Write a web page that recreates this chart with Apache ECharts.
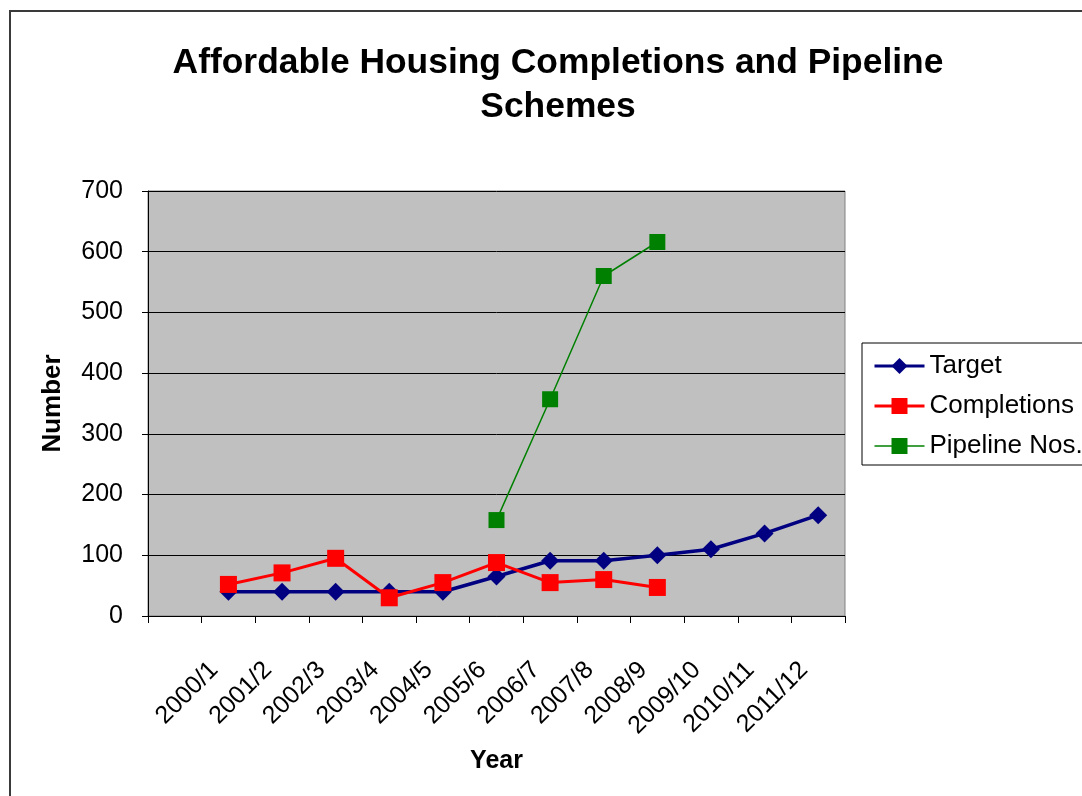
<!DOCTYPE html>
<html>
<head>
<meta charset="utf-8">
<title>Affordable Housing Completions and Pipeline Schemes</title>
<script src="https://cdn.jsdelivr.net/npm/echarts@6/dist/echarts.min.js"></script>
<style>
  html, body { margin: 0; padding: 0; background: #ffffff; }
  #chart { width: 1082px; height: 796px; }
</style>
</head>
<body>
<div id="chart"></div>
<script>
// Financial years; the leading blank slot leaves an empty first category on the axis
const years = ['', '2000/1', '2001/2', '2002/3', '2003/4', '2004/5', '2005/6',
  '2006/7', '2007/8', '2008/9', '2009/10', '2010/11', '2011/12'];

const target = [null, 40, 40, 40, 40, 40, 65, 91, 91, 100, 110, 136, 166];
const completions = [null, 52, 71, 95, 30, 55, 88, 55, 60, 47, null, null, null];
const pipeline = [null, null, null, null, null, null, 158, 357, 560, 616, null, null, null];

const yTicks = { min: 0, max: 700, step: 100 };

const FONT = '"Liberation Sans", Arial, sans-serif';

const chart = echarts.init(document.getElementById('chart'), null, { renderer: 'canvas' });

chart.setOption({
  backgroundColor: '#ffffff',
  animation: false,
  textStyle: { fontFamily: FONT, color: '#000000' },
  title: {
    text: 'Affordable Housing Completions and Pipeline\nSchemes',
    left: 553,
    top: 36,
    textAlign: 'center',
    textStyle: {
      fontFamily: FONT,
      fontSize: 35.4,
      fontWeight: 'bold',
      lineHeight: 44,
      color: '#000000'
    }
  },
  graphic: [{
    type: 'rect',
    shape: { x: 10, y: 11, width: 1200, height: 900 },
    style: { fill: 'none', stroke: '#3a3a3a', lineWidth: 2 },
    silent: true,
    z: -1
  }],
  legend: {
    orient: 'vertical',
    left: 862,
    top: 343,
    padding: [10, 12, 6, 11],
    itemWidth: 50,
    itemHeight: 20,
    itemGap: 14,
    borderColor: '#000000',
    borderWidth: 1,
    backgroundColor: '#ffffff',
    textStyle: { fontFamily: FONT, fontSize: 26, lineHeight: 26, color: '#000000' },
    data: [
      { name: 'Target', lineStyle: { width: 3 } },
      { name: 'Completions', lineStyle: { width: 3 } },
      { name: 'Pipeline Nos.', lineStyle: { width: 1.5 } }
    ]
  },
  grid: {
    left: 148,
    top: 191,
    width: 697,
    height: 425,
    show: true,
    backgroundColor: '#c0c0c0',
    borderColor: '#808080',
    borderWidth: 1,
    containLabel: false
  },
  xAxis: {
    type: 'category',
    data: years,
    boundaryGap: true,
    name: 'Year',
    nameLocation: 'middle',
    nameGap: 133,
    nameTextStyle: { fontFamily: FONT, fontSize: 25, fontWeight: 'bold', color: '#000000' },
    axisLine: { lineStyle: { color: '#000000', width: 1 } },
    axisTick: { show: true, length: 7, lineStyle: { color: '#000000' } },
    axisLabel: {
      interval: 0,
      rotate: 45,
      margin: 36,
      padding: [0, 20, 0, 0],
      fontFamily: FONT,
      fontSize: 25,
      color: '#000000'
    },
    splitLine: { show: false }
  },
  yAxis: {
    type: 'value',
    min: yTicks.min,
    max: yTicks.max,
    interval: yTicks.step,
    name: 'Number',
    nameLocation: 'middle',
    nameRotate: 90,
    nameGap: 82,
    nameTextStyle: { fontFamily: FONT, fontSize: 26, fontWeight: 'bold', color: '#000000' },
    axisLine: { show: true, lineStyle: { color: '#000000', width: 1 } },
    axisTick: { show: true, length: 6, lineStyle: { color: '#000000' } },
    axisLabel: { margin: 25, fontFamily: FONT, fontSize: 25, color: '#000000' },
    splitLine: { show: true, lineStyle: { color: '#000000', width: 1 } }
  },
  series: [
    {
      name: 'Target',
      type: 'line',
      data: target,
      symbol: 'diamond',
      symbolSize: 18,
      lineStyle: { color: '#000080', width: 3.5 },
      itemStyle: { color: '#000080' },
      connectNulls: false,
      z: 2
    },
    {
      name: 'Completions',
      type: 'line',
      data: completions,
      symbol: 'rect',
      symbolSize: 17,
      lineStyle: { color: '#ff0000', width: 3 },
      itemStyle: { color: '#ff0000' },
      connectNulls: false,
      z: 3
    },
    {
      name: 'Pipeline Nos.',
      type: 'line',
      data: pipeline,
      symbol: 'rect',
      symbolSize: 16,
      lineStyle: { color: '#008000', width: 1.5 },
      itemStyle: { color: '#008000' },
      connectNulls: false,
      z: 4
    }
  ]
});
</script>
</body>
</html>
